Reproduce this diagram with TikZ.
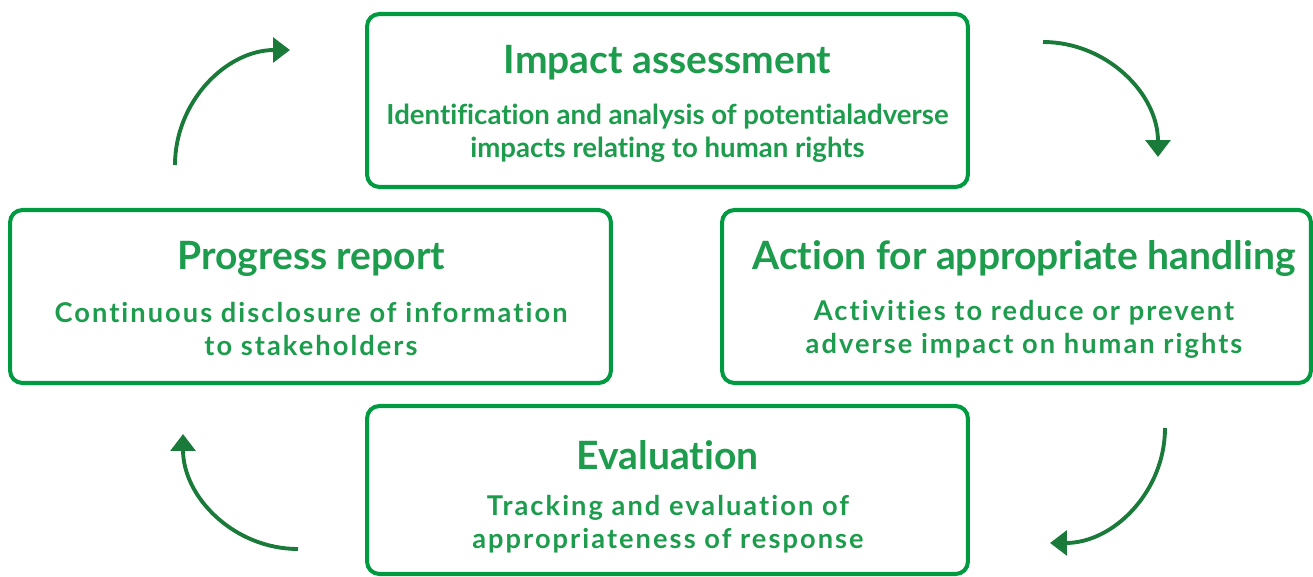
\documentclass[tikz,border=0pt]{standalone}
\usepackage{fontspec}
\setmainfont{Lato}[Ligatures=NoCommon]
\newfontfamily\spacedfont{Lato}[Ligatures=NoCommon, LetterSpace=7.5]
\usetikzlibrary{arrows.meta}

\definecolor{boxgreen}{RGB}{0,155,65}
\definecolor{textgreen}{RGB}{28,156,76}
\definecolor{arrowgreen}{RGB}{26,122,58}

\tikzset{
    stepbox/.style={draw=boxgreen, line width=2.3pt, rounded corners=7pt,
        minimum width=12.02cm, minimum height=3.46cm, inner sep=0pt},
    titletext/.style={text=textgreen, font=\fontsize{22.2}{26}\selectfont\bfseries},
    desctext/.style={text=textgreen, font=\fontsize{15.5}{18.7}\selectfont\spacedfont\bfseries, align=center},
    tightdesc/.style={desctext, font=\fontsize{15.7}{18.7}\selectfont\rmfamily\bfseries},
    cyclearrow/.style={draw=arrowgreen, line width=2.2pt, -{Triangle[length=9.6pt, width=14pt]}}
}

\begin{document}
\begin{tikzpicture}[x=0.02cm, y=0.02cm]
        \useasboundingbox (0,0) rectangle (1313,576);

        % Draw the four step boxes
        \node[stepbox] (impact) at (667.5,475.5) {};
        \node[stepbox] (progress) at (310.5,279.5) {};
        \node[stepbox, minimum width=11.78cm] (action) at (1016.5,279.5) {};
        \node[stepbox, minimum height=3.36cm] (evaluation) at (667.5,86) {};

        % Write the titles and descriptions
        \node[titletext] (impacttitle) at (667.5,513) {Impact assessment};
        \node[tightdesc] (impactdesc) at (667.5,442.5) {Identification and analysis of potentialadverse\\impacts relating to human rights};

        \node[titletext] (progresstitle) at (311.5,317) {Progress report};
        \node[desctext] (progressdesc) at (311,247) {Continuous disclosure of information\\to stakeholders};

        \node[titletext] (actiontitle) at (1024,317) {Action for appropriate handling};
        \node[desctext] (actiondesc) at (1024,247) {Activities to reduce or prevent\\adverse impact on human rights};

        \node[titletext] (evaluationtitle) at (667.5,121) {Evaluation};
        \node[desctext] (evaluationdesc) at (668,51.5) {Tracking and evaluation of\\appropriateness of response};

        % Draw the cycle arrows
        \coordinate (tlstart) at (175,411);
        \coordinate (trstart) at (1043,534);
        \coordinate (brstart) at (1165,148);
        \coordinate (blstart) at (298,27);
        \draw[cyclearrow] (tlstart) arc[start angle=180, end angle=90, radius=2.3cm];
        \draw[cyclearrow] (trstart) arc[start angle=90, end angle=0, radius=2.3cm];
        \draw[cyclearrow] (brstart) arc[start angle=0, end angle=-90, radius=2.3cm];
        \draw[cyclearrow] (blstart) arc[start angle=270, end angle=180, radius=2.3cm];

    \end{tikzpicture}
\end{document}
